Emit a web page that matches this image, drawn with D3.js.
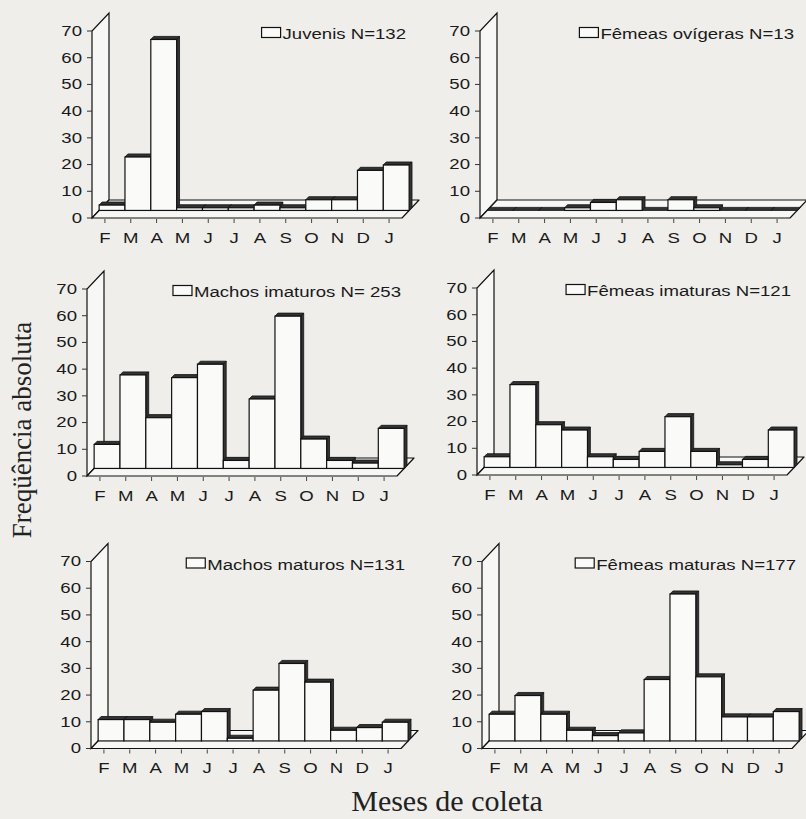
<!DOCTYPE html>
<meta charset="utf-8">
<style>
  body { margin: 0; background: #efeeeb; }
  svg { display: block; }
  .tick text, .month, .legend text { font-family: "Liberation Sans", Arial, sans-serif; font-size: 15px; fill: #1a1a1a; }
  .title { font-family: "Liberation Serif", "Times New Roman", serif; fill: #222; }
</style>
<body>
<script src="https://cdnjs.cloudflare.com/ajax/libs/d3/7.8.5/d3.min.js"></script>
<script>

// month keys must be unique for the band scale, labels repeat
var monthKeys = ["fev", "mar", "abr", "mai", "jun", "jul", "ago", "set", "out", "nov", "dez", "jan"];
var monthLabels = ["F", "M", "A", "M", "J", "J", "A", "S", "O", "N", "D", "J"];
var yTicks = [0, 10, 20, 30, 40, 50, 60, 70];

var juvenis        = [2, 20, 64, 1, 1, 1, 2, 1, 4, 4, 15, 17];
var femeasOvigeras = [0, 0, 0, 1, 3, 4, 0, 4, 1, 0, 0, 0];
var machosImaturos = [9, 35, 19, 34, 39, 3, 26, 57, 11, 3, 2, 15];
var femeasImaturas = [4, 31, 16, 14, 4, 3, 6, 19, 6, 1, 3, 14];
var machosMaturos  = [8, 8, 7, 10, 11, 1, 19, 29, 22, 4, 5, 7];
var femeasMaturas  = [10, 17, 10, 4, 2, 3, 23, 55, 24, 9, 9, 11];

var legendLabels = ["Juvenis N=132", "Fêmeas ovígeras N=13", "Machos imaturos N= 253",
                    "Fêmeas imaturas N=121", "Machos maturos N=131", "Fêmeas maturas N=177"];
var series = [juvenis, femeasOvigeras, machosImaturos, femeasImaturas, machosMaturos, femeasMaturas];

// front-left corner of each floor (layout only)
var origins = [[92, 218], [480, 218], [87, 476], [477, 475], [91, 748.5], [482, 748.5]];

var width = 806, height = 819;
var W = 310, H = 187;          // plot width, height of 0..70
var dx = 17, dy = -18;         // depth offset of the floor
var fd = 0.42, bd = 0.59;      // bar front / back depth fractions
var sx = 1.24;                 // the scan's sans text is wide

var svg = d3.select("body").append("svg")
  .attr("width", width)
  .attr("height", height);

var x = d3.scaleBand().domain(monthKeys).range([0, W]).padding(0);
var y = d3.scaleLinear().domain([0, 70]).range([0, -H]);

function pts(a) { return a.map(function(p) { return p.join(","); }).join(" "); }

series.forEach(function(values, k) {
  var x0 = origins[k][0], y0 = origins[k][1];
  var g = svg.append("g").attr("transform", "translate(" + x0 + "," + y0 + ")");

  // wall
  g.append("polygon")
    .attr("points", pts([[0, 0], [0, y(70)], [dx, y(70) + dy], [dx, dy]]))
    .attr("fill", "#f7f7f5").attr("stroke", "#111").attr("stroke-width", 1.2);

  // floor
  g.append("polygon")
    .attr("points", pts([[0, 0], [W, 0], [W + dx, dy], [dx, dy]]))
    .attr("fill", "#f7f7f5").attr("stroke", "#111").attr("stroke-width", 1.2)
    .attr("stroke-linejoin", "round");

  // value axis on the front edge of the wall
  var yAxis = d3.axisLeft(y).tickValues(yTicks).tickSize(5).tickPadding(5);
  var ya = g.append("g").call(yAxis);
  ya.select(".domain").remove();
  ya.selectAll("line").attr("stroke", "#333");
  ya.selectAll(".tick").attr("transform", null);
  ya.selectAll(".tick line").attr("transform", function(d) { return "translate(0," + y(d) + ")"; });
  ya.selectAll(".tick text")
    .attr("x", null).attr("y", null).attr("dy", null)
    .attr("text-anchor", "end")
    .attr("dominant-baseline", "central")
    .attr("transform", function(d) { return "translate(-10," + y(d) + ") scale(" + sx + ",1)"; });

  // month ticks and labels
  g.selectAll(".mtick")
    .data(monthKeys)
    .enter().append("line")
      .attr("x1", function(d) { return x(d) + x.bandwidth() / 2; })
      .attr("x2", function(d) { return x(d) + x.bandwidth() / 2; })
      .attr("y1", 1).attr("y2", 5)
      .attr("stroke", "#444");
  g.selectAll(".month")
    .data(monthKeys)
    .enter().append("text")
      .attr("class", "month")
      .attr("text-anchor", "middle")
      .attr("transform", function(d) { return "translate(" + (x(d) + x.bandwidth() / 2) + ",24.5) scale(" + sx + ",1)"; })
      .text(function(d, i) { return monthLabels[i]; });

  // bars, left to right
  var bw = x.bandwidth();
  var fx = fd * dx, fy = fd * dy;
  var ddx = (bd - fd) * dx, ddy = (bd - fd) * dy;
  var bars = g.selectAll(".bar")
    .data(values)
    .enter().append("g").attr("class", "bar");

  bars.each(function(v, i) {
    var b = d3.select(this);
    var xl = x(monthKeys[i]) + fx, yb = fy, yt = fy + y(v);
    b.append("polygon")
      .attr("points", pts([[xl + bw, yt], [xl + bw + ddx, yt + ddy], [xl + bw + ddx, yb + ddy], [xl + bw, yb]]))
      .attr("fill", "#333").attr("stroke", "#111").attr("stroke-width", 0.8);
    b.append("polygon")
      .attr("points", pts([[xl, yt], [xl + bw, yt], [xl + bw + ddx, yt + ddy], [xl + ddx, yt + ddy]]))
      .attr("fill", "#333").attr("stroke", "#111").attr("stroke-width", 0.8);
    b.append("rect")
      .attr("x", xl).attr("y", yt)
      .attr("width", bw).attr("height", yb - yt)
      .attr("fill", "#fafaf8").attr("stroke", "#111").attr("stroke-width", 1.2);
  });

  // legend, right aligned at the top
  var lg = g.append("g").attr("class", "legend");
  var lx = W + 4, ly = y(70) + 8;
  var t = lg.append("text")
    .attr("text-anchor", "end")
    .attr("transform", "translate(" + lx + "," + ly + ") scale(" + sx + ",1)")
    .text(legendLabels[k]);
  var tw = t.node().getComputedTextLength() * sx;
  lg.append("rect")
    .attr("x", lx - tw - 21).attr("y", ly - 11.5)
    .attr("width", 19).attr("height", 10)
    .attr("fill", "#fafaf8").attr("stroke", "#111").attr("stroke-width", 1.2);
});

// axis titles
svg.append("text")
  .attr("class", "title")
  .attr("text-anchor", "middle")
  .attr("font-size", 27)
  .attr("transform", "translate(31,430) rotate(-90)")
  .text("Freqüência absoluta");

svg.append("text")
  .attr("class", "title")
  .attr("text-anchor", "middle")
  .attr("font-size", 30)
  .attr("x", 447).attr("y", 811)
  .text("Meses de coleta");

</script>
</body>
